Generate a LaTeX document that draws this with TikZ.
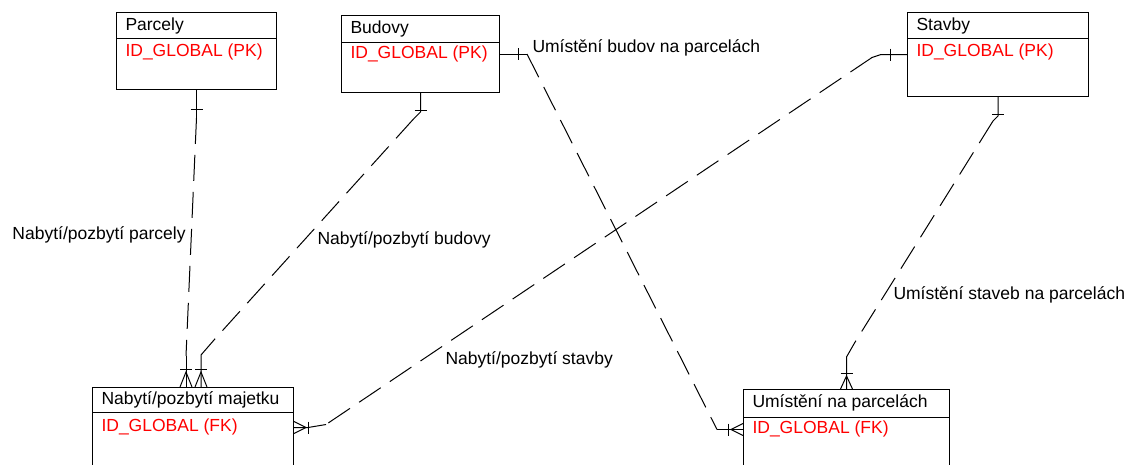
\documentclass[tikz,border=0pt]{standalone}
\usepackage{fontspec}
\setmainfont{Liberation Sans}
\usetikzlibrary{positioning}

\begin{document}
\begin{tikzpicture}[x=1pt, y=-1pt, line width=1pt]

  \tikzstyle{entity} = [rectangle, draw=black, anchor=north west, inner sep=0pt]
  \tikzstyle{title}  = [anchor=west, inner sep=0pt, font=\fontsize{17.5}{20}\selectfont]
  \tikzstyle{key}    = [title, text=red]
  \tikzstyle{rellabel} = [title]
  \tikzstyle{rel}    = [dash pattern=on 26pt off 11pt]

  \useasboundingbox (0,0) rectangle (1127,464);

  % entities
  \node (parcely) [entity, minimum width=160pt, minimum height=77pt] at (116,12) {};
  \draw (parcely.north west) ++(0,26) -- ++(160,0);
  \node (parcelyname) [title] at ([xshift=9pt, yshift=-14pt]parcely.north west) {Parcely};
  \node (parcelykey)  [key]   at ([xshift=9pt, yshift=-40pt]parcely.north west) {ID\_GLOBAL (PK)};

  \node (budovy) [entity, minimum width=158pt, minimum height=77pt] at (341,15) {};
  \draw (budovy.north west) ++(0,27) -- ++(158,0);
  \node (budovyname) [title] at ([xshift=9pt, yshift=-14pt]budovy.north west) {Budovy};
  \node (budovykey)  [key]   at ([xshift=9pt, yshift=-39pt]budovy.north west) {ID\_GLOBAL (PK)};

  \node (stavby) [entity, minimum width=181pt, minimum height=84pt] at (907,12) {};
  \draw (stavby.north west) ++(0,26) -- ++(181,0);
  \node (stavbyname) [title] at ([xshift=9pt, yshift=-14pt]stavby.north west) {Stavby};
  \node (stavbykey)  [key]   at ([xshift=9pt, yshift=-40pt]stavby.north west) {ID\_GLOBAL (PK)};

  \node (nabyti) [entity, minimum width=201pt, minimum height=80pt] at (92,387) {};
  \draw (nabyti.north west) ++(0,25) -- ++(201,0);
  \node (nabytiname) [title] at ([xshift=9pt, yshift=-13pt]nabyti.north west) {Nabytí/pozbytí majetku};
  \node (nabytikey)  [key]   at ([xshift=9pt, yshift=-40pt]nabyti.north west) {ID\_GLOBAL (FK)};

  \node (umisteni) [entity, minimum width=206pt, minimum height=80pt] at (743,389) {};
  \draw (umisteni.north west) ++(0,28) -- ++(206,0);
  \node (umistenname) [title] at ([xshift=9pt, yshift=-14pt]umisteni.north west) {Umístění na parcelách};
  \node (umistenikey)  [key]  at ([xshift=9pt, yshift=-40pt]umisteni.north west) {ID\_GLOBAL (FK)};

  % Parcely -> Nabyti
  \draw (parcely.south) -- ++(0,28) coordinate (r1a);
  \draw ([xshift=-6pt, yshift=-19pt]parcely.south) -- ++(12,0);
  \draw ([xshift=-7pt]nabyti.north) -- ++(0,-31) coordinate (r1b);
  \draw ([xshift=-13pt]nabyti.north) -- ++(6,-15) -- ++(6,15);
  \draw ([xshift=-13pt, yshift=18pt]nabyti.north) -- ++(12,0);
  \draw [rel] (r1a) -- (r1b);
  \node (r1label) [rellabel] at (12,235) {Nabytí/pozbytí parcely};

  % Budovy -> Nabyti
  \draw (budovy.south) -- ++(0,19) -- ++(-7,7) coordinate (r2a);
  \draw ([xshift=-6pt, yshift=-17pt]budovy.south) -- ++(12,0);
  \draw ([xshift=8pt]nabyti.north) -- ++(0,-32) -- ++(13,-15) coordinate (r2b);
  \draw ([xshift=2pt]nabyti.north) -- ++(6,-15) -- ++(6,15);
  \draw ([xshift=2pt, yshift=18pt]nabyti.north) -- ++(12,0);
  \draw [rel] (r2a) -- (r2b);
  \node (r2label) [rellabel] at (317,240) {Nabytí/pozbytí budovy};

  % Stavby -> Nabyti
  \draw (stavby.west) -- ++(-26,0) -- ++(-9,3) coordinate (r3a);
  \draw ([xshift=-17pt, yshift=6pt]stavby.west) -- ++(0,12);
  \draw (nabyti.east) -- ++(14,0) -- ++(18,-3) coordinate (r3b);
  \draw ([yshift=6pt]nabyti.east) -- ++(12,6) -- ++(-12,6);
  \draw ([xshift=14pt, yshift=6pt]nabyti.east) -- ++(0,12);
  \draw [rel] (r3a) -- (r3b);
  \node (r3label) [rellabel] at (445,360) {Nabytí/pozbytí stavby};

  % Budovy -> Umisteni
  \draw (budovy.east) -- ++(27,0) coordinate (r4a);
  \draw ([xshift=18pt, yshift=6pt]budovy.east) -- ++(0,12);
  \draw (umisteni.west) -- ++(-26,0) coordinate (r4b);
  \draw ([yshift=6pt]umisteni.west) -- ++(-12,6) -- ++(12,6);
  \draw ([xshift=-15pt, yshift=6pt]umisteni.west) -- ++(0,12);
  \draw [rel] (r4a) -- (r4b);
  \node (r4label) [rellabel] at (532,48) {Umístění budov na parcelách};

  % Stavby -> Umisteni
  \draw (stavby.south) -- ++(0,19) -- ++(-5,5) coordinate (r5a);
  \draw ([xshift=-6pt, yshift=-17pt]stavby.south) -- ++(12,0);
  \draw (umisteni.north) -- ++(0,-32) -- ++(8,-14) coordinate (r5b);
  \draw ([xshift=-6pt]umisteni.north) -- ++(6,-13) -- ++(6,13);
  \draw ([xshift=-6pt, yshift=16pt]umisteni.north) -- ++(12,0);
  \draw [rel] (r5a) -- (r5b);
  \node (r5label) [rellabel] at (893,295) {Umístění staveb na parcelách};

\end{tikzpicture}
\end{document}
